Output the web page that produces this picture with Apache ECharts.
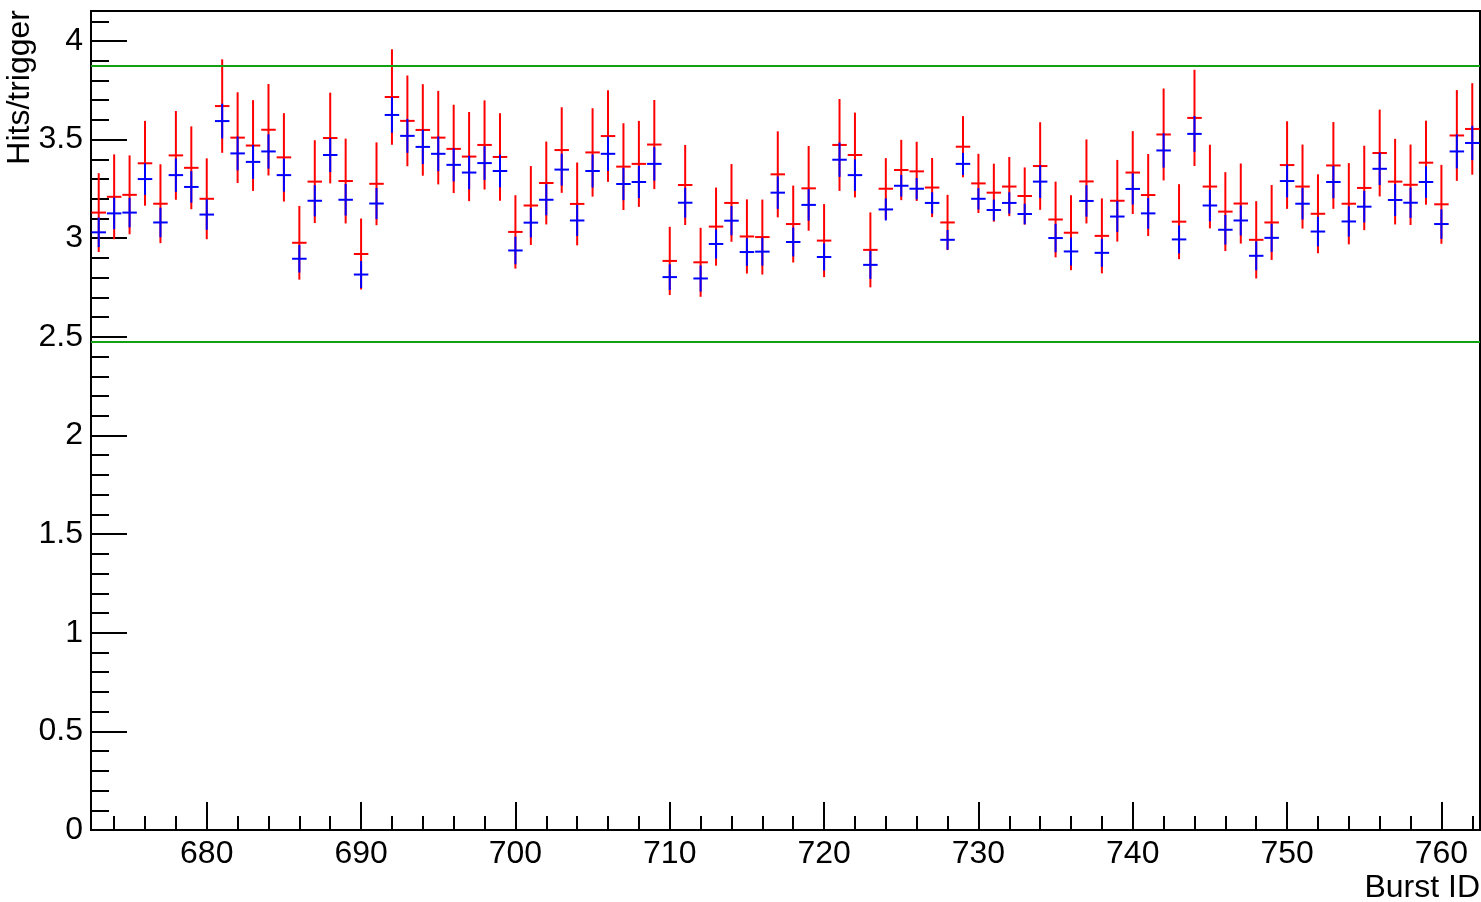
<!DOCTYPE html>
<html>
<head>
<meta charset="utf-8">
<script src="https://cdn.jsdelivr.net/npm/echarts@6/dist/echarts.min.js"></script>
<style>
html,body{margin:0;padding:0;background:#fff;}
#chart{width:1481px;height:902px;}
</style>
</head>
<body>
<div id="chart"></div>
<script>
// Burst IDs 673..762
const burstIds = [673,674,675,676,677,678,679,680,681,682,683,684,685,686,687,688,689,690,691,692,693,694,695,696,697,698,699,700,701,702,703,704,705,706,707,708,709,710,711,712,713,714,715,716,717,718,719,720,721,722,723,724,725,726,727,728,729,730,731,732,733,734,735,736,737,738,739,740,741,742,743,744,745,746,747,748,749,750,751,752,753,754,755,756,757,758,759,760,761,762];

const redValues = [3.13,3.21,3.22,3.38,3.175,3.42,3.357,3.20,3.67,3.51,3.47,3.55,3.41,2.977,3.287,3.508,3.29,2.92,3.276,3.716,3.595,3.549,3.51,3.453,3.414,3.473,3.412,3.032,3.166,3.28,3.447,3.174,3.435,3.518,3.363,3.377,3.475,2.885,3.27,2.878,3.059,3.179,3.009,3.006,3.324,3.072,3.253,2.988,3.473,3.422,2.941,3.251,3.346,3.339,3.257,3.08,3.464,3.278,3.231,3.262,3.214,3.366,3.095,3.028,3.288,3.012,3.19,3.333,3.219,3.526,3.084,3.61,3.262,3.135,3.176,2.992,3.08,3.371,3.262,3.124,3.369,3.175,3.255,3.432,3.287,3.271,3.383,3.172,3.521,3.554];

const redErrors = [0.20,0.215,0.20,0.215,0.20,0.225,0.21,0.205,0.237,0.23,0.23,0.232,0.224,0.187,0.21,0.23,0.215,0.18,0.21,0.242,0.23,0.232,0.237,0.224,0.226,0.226,0.222,0.186,0.20,0.21,0.217,0.21,0.224,0.232,0.22,0.218,0.226,0.173,0.203,0.175,0.198,0.197,0.188,0.19,0.218,0.195,0.215,0.185,0.233,0.215,0.19,0.155,0.153,0.15,0.15,0.14,0.155,0.15,0.147,0.15,0.145,0.222,0.192,0.19,0.213,0.19,0.207,0.21,0.208,0.233,0.19,0.244,0.212,0.20,0.203,0.196,0.19,0.222,0.213,0.20,0.22,0.206,0.214,0.22,0.217,0.204,0.213,0.20,0.23,0.232];

const blueValues = [3.03,3.126,3.13,3.30,3.08,3.32,3.26,3.12,3.594,3.43,3.387,3.44,3.32,2.896,3.19,3.422,3.195,2.816,3.176,3.625,3.519,3.463,3.428,3.372,3.333,3.381,3.341,2.938,3.079,3.195,3.348,3.09,3.341,3.428,3.275,3.285,3.377,2.803,3.18,2.796,2.971,3.089,2.93,2.932,3.231,2.981,3.169,2.905,3.398,3.32,2.865,3.146,3.266,3.251,3.179,2.992,3.377,3.20,3.143,3.179,3.123,3.287,3.001,2.933,3.189,2.926,3.11,3.25,3.126,3.445,2.994,3.529,3.166,3.043,3.09,2.911,3.002,3.29,3.175,3.034,3.285,3.085,3.16,3.352,3.194,3.18,3.285,3.072,3.44,3.483];

const blueErrors = [0.075,0.08,0.075,0.08,0.075,0.085,0.08,0.077,0.088,0.086,0.086,0.087,0.084,0.07,0.079,0.086,0.08,0.068,0.079,0.09,0.086,0.087,0.088,0.084,0.085,0.085,0.083,0.07,0.075,0.079,0.081,0.079,0.084,0.087,0.082,0.082,0.085,0.065,0.076,0.066,0.074,0.074,0.07,0.071,0.082,0.073,0.08,0.069,0.087,0.08,0.071,0.056,0.055,0.054,0.054,0.05,0.056,0.054,0.053,0.054,0.052,0.083,0.072,0.071,0.08,0.071,0.078,0.079,0.078,0.087,0.071,0.091,0.08,0.075,0.076,0.073,0.071,0.083,0.08,0.075,0.082,0.077,0.08,0.082,0.081,0.077,0.08,0.075,0.086,0.087];

const upperLimit = 3.873;
const lowerLimit = 2.474;

const xMin = 672.5, xMax = 762.5;
const yMin = 0, yMax = 4.152;

const xMajorTicks = [680,690,700,710,720,730,740,750,760];
const xMinorTicks = [674,676,678,680,682,684,686,688,690,692,694,696,698,700,702,704,706,708,710,712,714,716,718,720,722,724,726,728,730,732,734,736,738,740,742,744,746,748,750,752,754,756,758,760,762];
const yMajorTicks = [0,0.5,1,1.5,2,2.5,3,3.5,4];
const yMinorTicks = [0.1,0.2,0.3,0.4,0.6,0.7,0.8,0.9,1.1,1.2,1.3,1.4,1.6,1.7,1.8,1.9,2.1,2.2,2.3,2.4,2.6,2.7,2.8,2.9,3.1,3.2,3.3,3.4,3.6,3.7,3.8,3.9,4.1];

const xTitle = 'Burst ID';
const yTitle = 'Hits/trigger';

const FONT = '"Liberation Sans", Arial, Helvetica, sans-serif';

function buildData(vals, errs){
  return burstIds.map((id,i)=>[id, vals[i], errs[i]]);
}

function errRenderer(color){
  return function(params, api){
    const x = api.value(0), y = api.value(1), e = api.value(2);
    const pL = api.coord([x-0.47, y]);
    const pR = api.coord([x+0.47, y]);
    const pT = api.coord([x, y+e]);
    const pB = api.coord([x, y-e]);
    return {
      type:'group',
      children:[
        {type:'line', shape:{x1:pL[0], y1:pL[1], x2:pR[0], y2:pR[1]}, style:{stroke:color, lineWidth:2}},
        {type:'line', shape:{x1:pT[0], y1:pT[1], x2:pB[0], y2:pB[1]}, style:{stroke:color, lineWidth:2}}
      ]
    };
  };
}

const chart = echarts.init(document.getElementById('chart'), null, {renderer:'canvas'});
chart.setOption({
  animation:false,
  backgroundColor:'#ffffff',
  grid:{left:91, top:11, right:1, bottom:72, show:true, borderColor:'#000', borderWidth:2, backgroundColor:'transparent'},
  xAxis:[
    {type:'value', min:xMin, max:xMax, position:'bottom',
     axisLine:{show:true, onZero:false, lineStyle:{color:'#000', width:2}},
     axisTick:{show:true, inside:true, length:28, customValues:xMajorTicks, lineStyle:{color:'#000', width:2}},
     axisLabel:{show:true, customValues:xMajorTicks, fontSize:32, color:'#000', fontFamily:FONT, margin:8},
     splitLine:{show:false}},
    {type:'value', min:xMin, max:xMax, position:'bottom',
     axisLine:{show:false, onZero:false},
     axisTick:{show:true, inside:true, length:14, customValues:xMinorTicks, lineStyle:{color:'#000', width:2}},
     axisLabel:{show:false},
     splitLine:{show:false}}
  ],
  yAxis:[
    {type:'value', min:yMin, max:yMax, position:'left',
     axisLine:{show:true, onZero:false, lineStyle:{color:'#000', width:2}},
     axisTick:{show:true, inside:true, length:36, customValues:yMajorTicks, lineStyle:{color:'#000', width:2}},
     axisLabel:{show:true, customValues:yMajorTicks, fontSize:32, color:'#000', fontFamily:FONT, margin:8},
     splitLine:{show:false}},
    {type:'value', min:yMin, max:yMax, position:'left',
     axisLine:{show:false, onZero:false},
     axisTick:{show:true, inside:true, length:18, customValues:yMinorTicks, lineStyle:{color:'#000', width:2}},
     axisLabel:{show:false},
     splitLine:{show:false}}
  ],
  graphic:[
    {type:'text', x:1480, y:888, style:{text:xTitle, font:'32px '+FONT, fill:'#000', textAlign:'right', textVerticalAlign:'middle'}},
    {type:'text', x:20, y:10, rotation:Math.PI/2, style:{text:yTitle, font:'32px '+FONT, fill:'#000', textAlign:'right', textVerticalAlign:'middle'}}
  ],
  series:[
    {type:'custom', name:'red', xAxisIndex:0, yAxisIndex:0, renderItem:errRenderer('#ff0000'), data:buildData(redValues, redErrors), clip:true, z:2},
    {type:'custom', name:'blue', xAxisIndex:0, yAxisIndex:0, renderItem:errRenderer('#0000ff'), data:buildData(blueValues, blueErrors), clip:true, z:3},
    {type:'line', name:'upper', xAxisIndex:0, yAxisIndex:0, symbol:'none', data:[[xMin, upperLimit],[xMax, upperLimit]], lineStyle:{color:'#12a012', width:2}, z:4, silent:true},
    {type:'line', name:'lower', xAxisIndex:0, yAxisIndex:0, symbol:'none', data:[[xMin, lowerLimit],[xMax, lowerLimit]], lineStyle:{color:'#12a012', width:2}, z:4, silent:true}
  ]
});
</script>
</body>
</html>
